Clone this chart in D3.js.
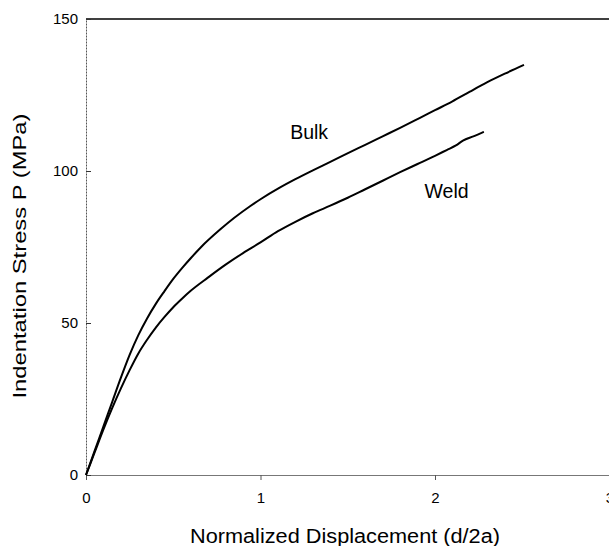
<!DOCTYPE html>
<html>
<head>
<meta charset="utf-8">
<script src="https://cdn.jsdelivr.net/npm/d3@7"></script>
<style>
  html, body { margin: 0; padding: 0; background: #fff; overflow: hidden; }
  svg { display: block; font-family: "Liberation Sans", Arial, sans-serif; }
</style>
</head>
<body>
<svg id="chart" width="609" height="546"></svg>
<script>
// Normalized displacement (d/2a) and indentation stress P (MPa)
const bulkX = [0, 0.05, 0.1, 0.15, 0.2, 0.25, 0.3, 0.35, 0.4, 0.45, 0.5, 0.554, 0.6, 0.66, 0.77, 0.85, 0.94, 1.0, 1.11, 1.2, 1.3, 1.4, 1.513, 1.6, 1.7, 1.8, 1.914, 2.0, 2.1, 2.2, 2.3, 2.4, 2.51];
const bulkP = [0, 8, 16, 24, 32, 39.5, 46, 51.5, 56.3, 60.5, 64.5, 68.3, 71.3, 75, 80.8, 84.6, 88.4, 90.7, 94.5, 97.3, 100.2, 103, 106.2, 108.6, 111.4, 114.2, 117.5, 120, 122.9, 126.1, 129.2, 132, 134.9];

const weldX = [0, 0.05, 0.1, 0.15, 0.2, 0.25, 0.3, 0.35, 0.4, 0.45, 0.5, 0.55, 0.6, 0.7, 0.8, 0.9, 1.0, 1.1, 1.2, 1.3, 1.4, 1.5, 1.6, 1.7, 1.8, 1.9, 2.0, 2.067, 2.12, 2.16, 2.22, 2.28];
const weldP = [0, 7.5, 15, 22, 28.5, 34.5, 40, 44.5, 48.5, 52, 55.2, 58, 60.6, 65, 69.2, 73, 76.5, 80.2, 83.3, 86.1, 88.6, 91.2, 94, 96.8, 99.6, 102.3, 105, 106.9, 108.4, 110, 111.4, 112.9];

const xTicks = [0, 1, 2, 3];
const yTicks = [0, 50, 100, 150];

const curveLabels = [
  { text: "Bulk", x: 1.17, p: 110.5 },
  { text: "Weld", x: 1.94, p: 91 }
];

const svg = d3.select("#chart");
const x = d3.scaleLinear().domain([0, 3]).range([86, 609.5]);
const y = d3.scaleLinear().domain([0, 150]).range([475, 19]);

// frame line along the top
svg.append("line")
  .attr("x1", x(0)).attr("x2", 609)
  .attr("y1", y(150)).attr("y2", y(150))
  .attr("stroke", "#000").attr("stroke-width", 1.5);

// x axis
const gx = svg.append("g")
  .attr("transform", `translate(0,${y(0)})`)
  .call(d3.axisBottom(x).tickValues(xTicks).tickFormat(d3.format("d"))
    .tickSizeInner(5).tickSizeOuter(0).tickPadding(12));
gx.select(".domain").attr("stroke", "#777");
gx.selectAll(".tick line").attr("stroke", "#555");
gx.selectAll(".tick text").attr("font-size", 15).attr("fill", "#000");

// y axis
const gy = svg.append("g")
  .attr("transform", `translate(${x(0)},0)`)
  .call(d3.axisLeft(y).tickValues(yTicks).tickFormat(d3.format("d"))
    .tickSizeInner(-5).tickSizeOuter(0).tickPadding(8));
gy.select(".domain").attr("stroke", "#555").attr("stroke-dasharray", "2,1");
gy.selectAll(".tick line").attr("stroke", "#333");
gy.selectAll(".tick text").attr("font-size", 15).attr("fill", "#000");

// stress-displacement curves
const line = d3.line()
  .x(d => x(d[0]))
  .y(d => y(d[1]))
  .curve(d3.curveMonotoneX);

const series = [
  d3.zip(bulkX, bulkP),
  d3.zip(weldX, weldP)
];

svg.selectAll("path.curve")
  .data(series)
  .join("path")
  .attr("class", "curve")
  .attr("d", line)
  .attr("fill", "none")
  .attr("stroke", "#000")
  .attr("stroke-width", 2);

// curve labels
svg.selectAll("text.curve-label")
  .data(curveLabels)
  .join("text")
  .attr("class", "curve-label")
  .attr("x", d => x(d.x))
  .attr("y", d => y(d.p))
  .attr("font-size", 19.5)
  .text(d => d.text);

// axis titles
svg.append("text")
  .attr("x", 345).attr("y", 543)
  .attr("text-anchor", "middle")
  .attr("font-size", 20)
  .attr("textLength", 310)
  .attr("lengthAdjust", "spacingAndGlyphs")
  .text("Normalized Displacement  (d/2a)");

svg.append("text")
  .attr("transform", "translate(26,256) rotate(-90)")
  .attr("text-anchor", "middle")
  .attr("font-size", 19)
  .attr("textLength", 285)
  .attr("lengthAdjust", "spacingAndGlyphs")
  .text("Indentation Stress P (MPa)");
</script>
</body>
</html>
